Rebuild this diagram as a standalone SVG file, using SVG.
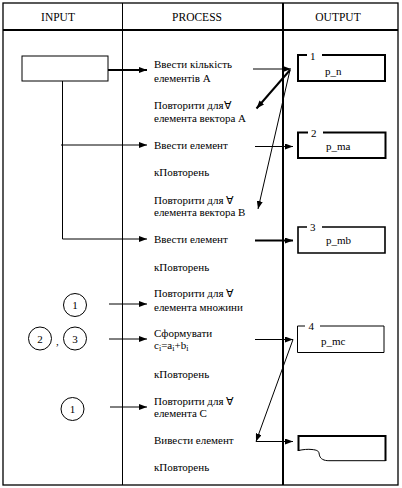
<svg xmlns="http://www.w3.org/2000/svg" width="402" height="488" viewBox="0 0 402 488">
<style>
text{font-family:"Liberation Serif","Times New Roman",serif;font-size:11px;fill:#000}
.hd{font-size:11.5px;text-anchor:middle}
.c{text-anchor:middle}
.frame{fill:none;stroke:#000;stroke-width:1.3}
.thin{fill:none;stroke:#000;stroke-width:1}
.thk{fill:none;stroke:#000;stroke-width:2}
.box{fill:#fff;stroke:#000}
</style>
<defs>
<marker id="ah" viewBox="0 0 8 6" refX="8" refY="3" markerWidth="8" markerHeight="6" markerUnits="userSpaceOnUse" orient="auto">
<path d="M0,0 L8,3 L0,6 z" fill="#000"/>
</marker>
</defs>
<rect width="402" height="488" fill="#fff"/>
<g id="table">
<rect class="frame" x="3" y="3" width="395" height="482"/>
<line class="thk" x1="3" y1="30" x2="398" y2="30"/>
<line class="thin" x1="122.5" y1="3" x2="122.5" y2="485"/>
<line class="thk" x1="283" y1="3" x2="283" y2="485"/>
<text class="hd" x="58" y="21">INPUT</text>
<text class="hd" x="197" y="21">PROCESS</text>
<text class="hd" x="338" y="21">OUTPUT</text>
</g>
<g id="input">
<rect class="box" x="22" y="56" width="86" height="25" stroke-width="1"/>
</g>
<g id="circle1a"><circle class="box" cx="75" cy="305" r="11.5" stroke-width="1"/><text class="c" x="75" y="309">1</text></g>
<g id="circle2"><circle class="box" cx="40" cy="338.5" r="11.5" stroke-width="1"/><text class="c" x="40" y="342.5">2</text></g>
<text x="56" y="345">,</text>
<g id="circle3"><circle class="box" cx="75" cy="338.5" r="11.5" stroke-width="1"/><text class="c" x="75" y="342.5">3</text></g>
<g id="circle1b"><circle class="box" cx="72.5" cy="409" r="11.5" stroke-width="1"/><text class="c" x="72.5" y="413">1</text></g>
<g id="process">
<text x="154" y="67.5">Ввести кількість</text>
<text x="154" y="82">елементів А</text>
<text x="154" y="109">Повторити для∀</text>
<text x="154" y="122">елемента вектора А</text>
<text x="154" y="148.5">Ввести елемент</text>
<text x="154" y="176">кПовторень</text>
<text x="154" y="203.5">Повторити для ∀</text>
<text x="154" y="215.5">елемента вектора В</text>
<text x="154" y="242.5">Ввести елемент</text>
<text x="154" y="270.5">кПовторень</text>
<text x="154" y="296.5">Повторити для ∀</text>
<text x="154" y="310.5">елемента множини</text>
<text x="154" y="337">Сформувати</text>
<text x="154" y="349">c<tspan font-size="8" dy="2">i</tspan><tspan dy="-2">=a</tspan><tspan font-size="8" dy="2">i</tspan><tspan dy="-2">+b</tspan><tspan font-size="8" dy="2">i</tspan></text>
<text x="154" y="378">кПовторень</text>
<text x="154" y="405">Повторити для ∀</text>
<text x="154" y="416.5">елемента С</text>
<text x="154" y="443.5">Вивести елемент</text>
<text x="154" y="470.5">кПовторень</text>
</g>
<g id="out1">
<path class="thk" d="M307,55 H298 V81 H385 V55 H322"/>
<text x="310" y="59.5">1</text>
<text x="325" y="75">p_n</text>
</g>
<g id="out2">
<path class="thk" d="M308,132.5 H298 V158 H385.5 V132.5 H323"/>
<text x="311" y="136.5">2</text>
<text x="326" y="150">p_ma</text>
</g>
<g id="out3">
<path fill="none" stroke="#000" stroke-width="1.6" d="M307,227 H298 V253 H385 V227 H322"/>
<text x="310" y="231">3</text>
<text x="326" y="244">p_mb</text>
</g>
<g id="out4">
<path class="thin" d="M305,326 H297.5 V352.5 H384 V326 H320"/>
<text x="308.5" y="329.5">4</text>
<text x="321" y="345">p_mc</text>
</g>
<g id="out5">
<path class="thk" d="M298.5,451 V436 H385.5 V461"/>
<path class="thin" d="M298.5,450.5 C303,449.5 308,449 312,449.5 C317,450 318.5,451 319,453 C319.5,456 320,458.5 324,460 C326,460.7 328,460.7 331,460.7 H385.5"/>
</g>
<g id="connectors">
<line class="thk" x1="108" y1="70" x2="147" y2="70" marker-end="url(#ah)"/>
<polyline class="thin" points="62.5,81 62.5,239 147,239" marker-end="url(#ah)"/>
<line class="thin" x1="61" y1="145" x2="147" y2="145" marker-end="url(#ah)"/>
<line class="thin" x1="109" y1="304" x2="147" y2="304" marker-end="url(#ah)"/>
<line class="thin" x1="109" y1="339" x2="147" y2="339" marker-end="url(#ah)"/>
<line class="thin" x1="110" y1="407" x2="147" y2="407" marker-end="url(#ah)"/>
<line class="thin" x1="253" y1="69" x2="291" y2="69" marker-end="url(#ah)"/>
<line class="thk" x1="290" y1="70" x2="256.5" y2="108.5" marker-end="url(#ah)"/>
<line class="thin" x1="290" y1="70" x2="258" y2="209" marker-end="url(#ah)"/>
<line class="thin" x1="255" y1="146.5" x2="293" y2="146.5" marker-end="url(#ah)"/>
<line class="thk" x1="255" y1="240.5" x2="293" y2="240.5" marker-end="url(#ah)"/>
<line class="thin" x1="255" y1="339.5" x2="293" y2="339.5" marker-end="url(#ah)"/>
<line class="thin" x1="293" y1="339.5" x2="256" y2="441.5" marker-end="url(#ah)"/>
<line class="thin" x1="256" y1="441.5" x2="293" y2="441.5" marker-end="url(#ah)"/>
</g>
</svg>
